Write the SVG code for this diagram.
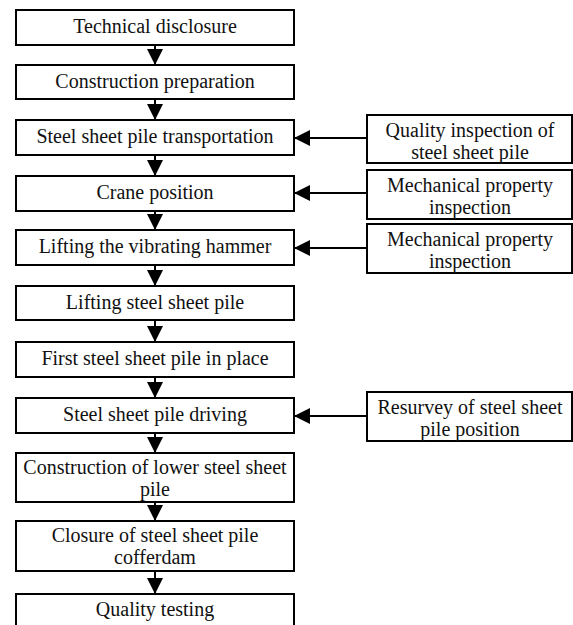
<svg xmlns="http://www.w3.org/2000/svg" width="573" height="625" viewBox="0 0 573 625">
<defs>
<style>
.box{fill:#fff;stroke:#000;stroke-width:2}
.t{font-family:"Liberation Serif","Times New Roman",serif;font-size:20px;fill:#111;text-anchor:middle}
.ln{stroke:#000;stroke-width:2;fill:none}
</style>
<marker id="ah" viewBox="0 0 16 16" refX="16" refY="8" markerWidth="16" markerHeight="16" markerUnits="userSpaceOnUse" orient="auto">
<path d="M0,0 L16,8 L0,16 Z" fill="#000"/>
</marker>
</defs>
<rect width="573" height="625" fill="#fff"/>
<g id="connectors">
<line class="ln" x1="155" y1="45" x2="155" y2="65" marker-end="url(#ah)"/>
<line class="ln" x1="155" y1="99" x2="155" y2="120" marker-end="url(#ah)"/>
<line class="ln" x1="155" y1="155" x2="155" y2="176" marker-end="url(#ah)"/>
<line class="ln" x1="155" y1="211" x2="155" y2="230" marker-end="url(#ah)"/>
<line class="ln" x1="155" y1="265" x2="155" y2="286" marker-end="url(#ah)"/>
<line class="ln" x1="155" y1="320" x2="155" y2="342" marker-end="url(#ah)"/>
<line class="ln" x1="155" y1="377" x2="155" y2="398" marker-end="url(#ah)"/>
<line class="ln" x1="155" y1="433" x2="155" y2="453" marker-end="url(#ah)"/>
<line class="ln" x1="155" y1="502" x2="155" y2="521" marker-end="url(#ah)"/>
<line class="ln" x1="155" y1="571" x2="155" y2="594" marker-end="url(#ah)"/>
<line class="ln" x1="367" y1="138" x2="294" y2="138" marker-end="url(#ah)"/>
<line class="ln" x1="367" y1="193" x2="294" y2="193" marker-end="url(#ah)"/>
<line class="ln" x1="367" y1="248" x2="294" y2="248" marker-end="url(#ah)"/>
<line class="ln" x1="367" y1="416" x2="294" y2="416" marker-end="url(#ah)"/>
</g>
<g id="n1"><rect class="box" x="16" y="10" width="278" height="35"/><text class="t" x="155" y="33">Technical disclosure</text></g>
<g id="n2"><rect class="box" x="16" y="65" width="278" height="34"/><text class="t" x="155" y="88">Construction preparation</text></g>
<g id="n3"><rect class="box" x="16" y="120" width="278" height="35"/><text class="t" x="155" y="143">Steel sheet pile transportation</text></g>
<g id="n4"><rect class="box" x="16" y="176" width="278" height="35"/><text class="t" x="155" y="199">Crane position</text></g>
<g id="n5"><rect class="box" x="16" y="230" width="278" height="35"/><text class="t" x="155" y="253">Lifting the vibrating hammer</text></g>
<g id="n6"><rect class="box" x="16" y="286" width="278" height="34"/><text class="t" x="155" y="309">Lifting steel sheet pile</text></g>
<g id="n7"><rect class="box" x="16" y="342" width="278" height="35"/><text class="t" x="155" y="365">First steel sheet pile in place</text></g>
<g id="n8"><rect class="box" x="16" y="398" width="278" height="35"/><text class="t" x="155" y="421">Steel sheet pile driving</text></g>
<g id="n9"><rect class="box" x="16" y="453" width="278" height="49"/><text class="t" x="155" y="474">Construction of lower steel sheet</text><text class="t" x="155" y="496">pile</text></g>
<g id="n10"><rect class="box" x="16" y="521" width="278" height="50"/><text class="t" x="155" y="542">Closure of steel sheet pile</text><text class="t" x="155" y="564">cofferdam</text></g>
<g id="n11"><rect class="box" x="16" y="594" width="278" height="40"/><text class="t" x="155" y="616">Quality testing</text></g>
<g id="r1"><rect class="box" x="367" y="115" width="205" height="48"/><text class="t" x="470" y="137">Quality inspection of</text><text class="t" x="470" y="159">steel sheet pile</text></g>
<g id="r2"><rect class="box" x="367" y="170" width="205" height="49"/><text class="t" x="470" y="192">Mechanical property</text><text class="t" x="470" y="214">inspection</text></g>
<g id="r3"><rect class="box" x="367" y="224" width="205" height="49"/><text class="t" x="470" y="246">Mechanical property</text><text class="t" x="470" y="268">inspection</text></g>
<g id="r4"><rect class="box" x="367" y="392" width="205" height="49"/><text class="t" x="470" y="414">Resurvey of steel sheet</text><text class="t" x="470" y="436">pile position</text></g>
</svg>
